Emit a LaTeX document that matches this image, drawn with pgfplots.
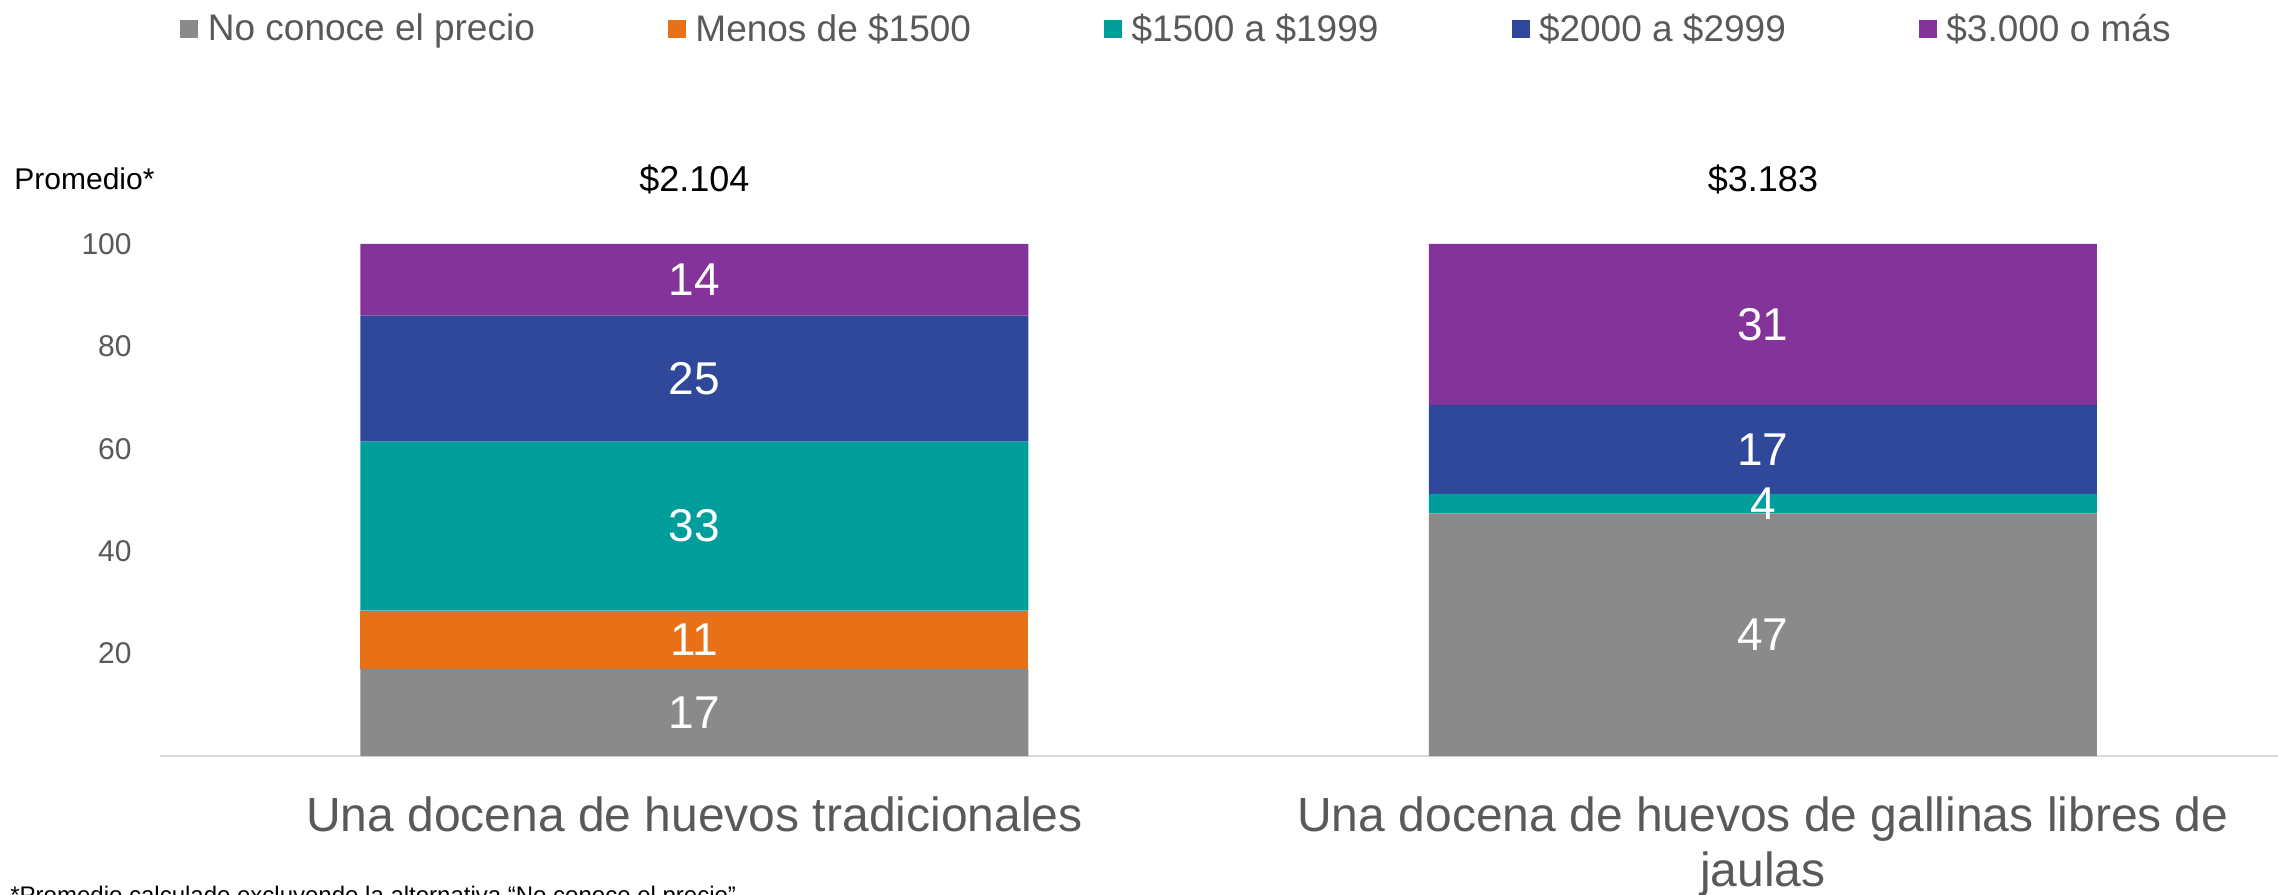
\documentclass[border=0pt]{standalone}
\usepackage{fontspec}
\setmainfont{Liberation Sans}
\usepackage{pgfplots}
\pgfplotsset{compat=1.18}

\definecolor{cgray}{RGB}{138,138,138}
\definecolor{corange}{RGB}{232,113,24}
\definecolor{cteal}{RGB}{0,158,154}
\definecolor{cblue}{RGB}{47,72,153}
\definecolor{cpurple}{RGB}{131,51,153}
\definecolor{txtgray}{RGB}{89,89,89}
\definecolor{axgray}{RGB}{217,217,217}

% shared geometry of the two overlaid axes (1 px of the reference = 0.5pt)
\pgfplotsset{
  refframe/.style={
    at={(80pt,69pt)}, anchor=south west,
    scale only axis, width=1059pt, height=256pt,
    xmin=-0.5, xmax=1.482, ymin=0, ymax=100,
  }
}

\begin{document}
\begin{tikzpicture}
\path[use as bounding box] (0,0) rectangle (1139pt,447pt);

\begin{axis}[refframe,
  ybar stacked, bar width=334pt,
  axis x line*=bottom, axis y line*=left,
  x axis line style={draw=axgray, line width=1pt},
  y axis line style={draw=none},
  tick style={draw=none},
  xtick={0,1},
  xticklabels={{Una docena de huevos tradicionales},{Una docena de huevos de gallinas libres de\\jaulas}},
  xticklabel style={align=center, font=\fontsize{24}{27.5}\selectfont, text=txtgray,
    anchor=north, inner sep=0pt, yshift=-20pt},
  ytick={20,40,60,80,100},
  yticklabel style={font=\fontsize{15}{18}\selectfont, text=txtgray,
    anchor=east, inner sep=0pt, xshift=-14pt},
  /pgf/number format/assume math mode=true,
  legend columns=5,
  legend cell align=left,
  legend style={at={(0.00944,1.42)}, anchor=west, draw=none, fill=none, inner sep=0pt,
    font=\fontsize{18.5}{22}\selectfont, text=txtgray,
    nodes={inner sep=0pt},
    /tikz/every odd column/.append style={column sep=4.75pt},
    /tikz/every even column/.append style={column sep=66.5pt}},
  legend image code/.code={\fill[#1] (0pt,-4.5pt) rectangle (9pt,4.5pt);},
]
\addplot[fill=cgray, draw=none]   coordinates {(0,17)   (1,47.4)};
\addplot[fill=corange, draw=none] coordinates {(0,11.4) (1,0)};
\addplot[fill=cteal, draw=none]   coordinates {(0,33)   (1,3.8)};
\addplot[fill=cblue, draw=none]   coordinates {(0,24.6) (1,17.4)};
\addplot[fill=cpurple, draw=none] coordinates {(0,14)   (1,31.4)};
\legend{No conoce el precio, Menos de \$1500, \$1500 a \$1999, \$2000 a \$2999, \$3.000 o más}
\end{axis}

% labels: segment values at segment centres, averages above the bars
\begin{axis}[refframe, axis lines=none, clip=false, point meta=explicit symbolic]
\addplot[draw=none, mark=none, nodes near coords,
  every node near coord/.append style={anchor=center, text=white, font=\fontsize{23}{23}\selectfont}]
  coordinates {(0,8.5)[17] (0,22.7)[11] (0,44.9)[33] (0,73.7)[25] (0,93)[14]
               (1,23.7)[47] (1,49.3)[4] (1,59.9)[17] (1,84.3)[31]};
\addplot[draw=none, mark=none, nodes near coords,
  every node near coord/.append style={anchor=center, text=black, font=\fontsize{18}{18}\selectfont}]
  coordinates {(0,112.7)[\$2.104] (1,112.7)[\$3.183]};
\end{axis}

\node[anchor=west, inner sep=0pt, font=\fontsize{15}{18}\selectfont] at (7pt,357.5pt) {Promedio*};
\node[anchor=base west, inner sep=0pt, font=\fontsize{12}{14}\selectfont] at (5pt,-4.5pt)
  {*Promedio calculado excluyendo la alternativa “No conoce el precio”};
\end{tikzpicture}
\end{document}
